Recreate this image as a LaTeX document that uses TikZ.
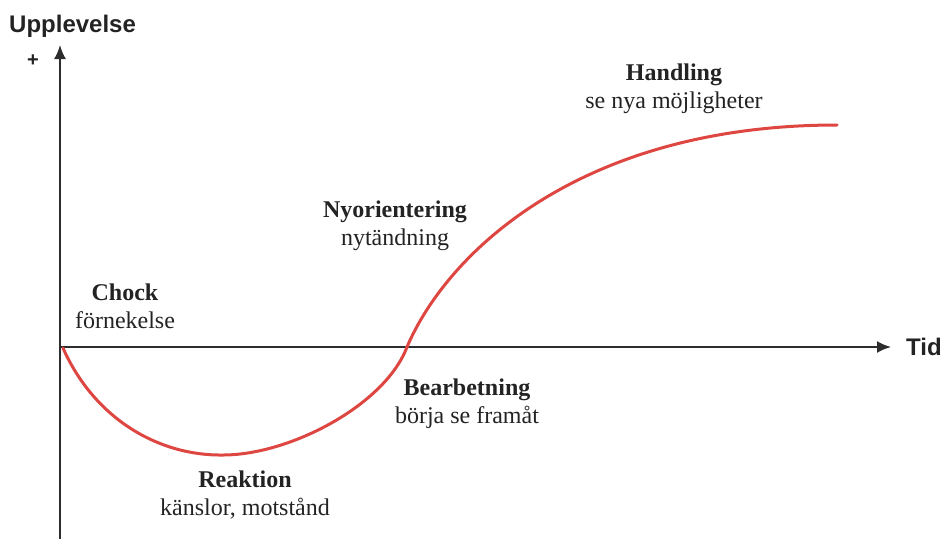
\documentclass[tikz,border=0pt]{standalone}
\usepackage{fontspec}
\setmainfont{Liberation Serif}
\setsansfont{Liberation Sans}
\usepackage{tikz}
\usetikzlibrary{arrows.meta, positioning}
\definecolor{AxisGray}{RGB}{45,45,45}
\definecolor{CurveRed}{RGB}{222,70,66}
\definecolor{TextDark}{RGB}{35,35,35}

\begin{document}
\begin{tikzpicture}[
  x=1pt, y=-1pt,
  every node/.style={text=TextDark, inner sep=0pt},
  phase/.style={align=center, font=\fontsize{24}{28}\selectfont},
  axislabel/.style={font=\sffamily\bfseries\fontsize{24}{26}\selectfont},
  axis/.style={draw=AxisGray, line width=2pt, -{Latex[length=14pt, width=12pt]}},
  curve/.style={draw=CurveRed, line width=3pt, line cap=round}
]
\useasboundingbox (0,0) rectangle (944,539);
% axes
\coordinate (o)    at (60,347);
\coordinate (ybot) at (60,539);
\coordinate (ytop) at (60,45);
\coordinate (xend) at (891,347);
\draw[axis] (ybot) -- (ytop);
\draw[axis] (o) -- (xend);
\node[axislabel, anchor=west] (tid) at (906,347) {Tid};
\node[axislabel, anchor=base west] (upp) at (9,32) {Upplevelse};
\node[axislabel, font=\sffamily\bfseries\fontsize{20}{20}\selectfont] (plus) at (33,61) {+};
% the curve
\coordinate (start)  at (63,348);
\coordinate (bottom) at (223,455);
\coordinate (cross)  at (407,347);
\coordinate (top)    at (837,125);
\draw[curve] (start) .. controls (95,420) and (160,456) .. (bottom)
  .. controls (290,455) and (385,405) .. (cross)
  .. controls (447,253) and (580,125) .. (top);
% phases
\node[phase] (chock) at (125,306) {\textbf{Chock}\\förnekelse};
\node[phase] (reakt) at (245,495) {\textbf{Reaktion}\\känslor, motstånd};
\node[phase] (bearb) at (467,404) {\textbf{Bearbetning}\\börja se framåt};
\node[phase] (nyori) at (395,226) {\textbf{Nyorientering}\\nytändning};
\node[phase] (handl) at (674,89)  {\textbf{Handling}\\se nya möjligheter};
\end{tikzpicture}
\end{document}
